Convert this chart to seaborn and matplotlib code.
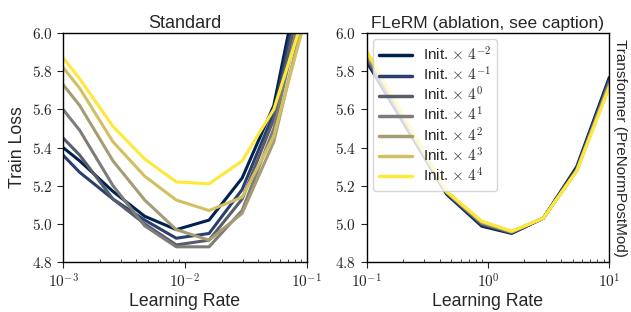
import numpy as np
import pandas as pd
import matplotlib
matplotlib.use("Agg")
import matplotlib.pyplot as plt
import matplotlib.ticker as mticker
import seaborn as sns

sns.set_style("ticks")
plt.rcParams['font.family'] = ['Liberation Sans', 'DejaVu Sans']
plt.rcParams['mathtext.fontset'] = 'cm'

init_labels = [r"Init. $\times$ $4^{-2}$", r"Init. $\times$ $4^{-1}$", r"Init. $\times$ $4^{0}$",
               r"Init. $\times$ $4^{1}$", r"Init. $\times$ $4^{2}$", r"Init. $\times$ $4^{3}$",
               r"Init. $\times$ $4^{4}$"]

# Standard panel
lr_std = [1.0e-3, 1.37e-3, 2.57e-3, 4.68e-3, 8.5e-3, 1.58e-2, 2.95e-2, 5.37e-2, 1.0e-1]
std_m2 = [5.40, 5.33, 5.17, 5.04, 4.97, 5.02, 5.24, 5.62, 6.47]
std_m1 = [5.36, 5.27, 5.13, 5.02, 4.925, 4.95, 5.18, 5.58, 6.40]
std_0  = [5.45, 5.36, 5.13, 5.00, 4.89, 4.915, 5.13, 5.55, 6.33]
std_1  = [5.60, 5.49, 5.20, 4.99, 4.88, 4.88, 5.07, 5.50, 6.25]
std_2  = [5.73, 5.62, 5.33, 5.125, 4.97, 4.915, 5.055, 5.43, 6.15]
std_3  = [5.82, 5.71, 5.43, 5.25, 5.125, 5.07, 5.14, 5.46, 6.10]
std_4  = [5.87, 5.76, 5.51, 5.34, 5.22, 5.21, 5.33, 5.60, 6.14]

# FLeRM panel
lr_fl = [1.0e-1, 4.57e-1, 8.9e-1, 1.57, 2.86, 5.4, 10.0]
fl_m2 = [5.85, 5.155, 4.988, 4.950, 5.030, 5.300, 5.767]
fl_m1 = [5.86, 5.160, 4.995, 4.953, 5.030, 5.290, 5.755]
fl_0  = [5.87, 5.163, 5.000, 4.955, 5.030, 5.285, 5.745]
fl_1  = [5.88, 5.165, 5.005, 4.957, 5.030, 5.282, 5.735]
fl_2  = [5.89, 5.167, 5.008, 4.959, 5.030, 5.280, 5.728]
fl_3  = [5.90, 5.169, 5.012, 4.961, 5.030, 5.278, 5.720]
fl_4  = [5.907, 5.170, 5.014, 4.962, 5.030, 5.277, 5.715]

std_series = [std_m2, std_m1, std_0, std_1, std_2, std_3, std_4]
fl_series = [fl_m2, fl_m1, fl_0, fl_1, fl_2, fl_3, fl_4]

df_std = pd.concat([pd.DataFrame({"lr": lr_std, "loss": s, "init": lab})
                    for s, lab in zip(std_series, init_labels)])
df_fl = pd.concat([pd.DataFrame({"lr": lr_fl, "loss": s, "init": lab})
                   for s, lab in zip(fl_series, init_labels)])

palette = [tuple(c[:3]) for c in plt.cm.cividis(np.linspace(0, 1, 7))]

fig = plt.figure(figsize=(6.31, 3.12), dpi=100)
ax1 = fig.add_axes([0.1, 0.16, 0.386, 0.734])
ax2 = fig.add_axes([0.581, 0.16, 0.3845, 0.734])

sns.lineplot(data=df_std, x="lr", y="loss", hue="init", palette=palette,
             linewidth=2.2, ax=ax1, legend=False, sort=False)
sns.lineplot(data=df_fl, x="lr", y="loss", hue="init", palette=palette,
             linewidth=2.2, ax=ax2, legend=True, sort=False)

def logfmt(v, pos):
    e = int(round(np.log10(v)))
    return r"$10^{%d}$" % e

def yfmt(v, pos):
    return r"$%.1f$" % v

for ax, xl in [(ax1, (1e-3, 1e-1)), (ax2, (1e-1, 1e1))]:
    ax.set_xscale("log")
    ax.set_xlim(*xl)
    ax.set_ylim(4.8, 6.0)
    ax.set_yticks([4.8, 5.0, 5.2, 5.4, 5.6, 5.8, 6.0])
    ax.xaxis.set_major_formatter(mticker.FuncFormatter(logfmt))
    ax.xaxis.set_minor_formatter(mticker.NullFormatter())
    ax.yaxis.set_major_formatter(mticker.FuncFormatter(yfmt))
    ax.tick_params(axis="both", which="major", labelsize=11, length=4, width=0.8, direction="out")
    ax.tick_params(axis="x", which="minor", length=2.5, width=0.6, direction="in")
    for sp in ax.spines.values():
        sp.set_visible(True)
        sp.set_linewidth(1.0)
        sp.set_color("black")
    ax.set_xlabel("Learning Rate", fontsize=12.7, labelpad=2)

ax1.set_ylabel("Train Loss", fontsize=12.7)
ax2.set_ylabel("")
ax1.set_title("Standard", fontsize=13, pad=4)
ax2.set_title("FLeRM (ablation, see caption)", fontsize=12.5, pad=4)

leg = ax2.legend(loc="upper left", fontsize=11, frameon=True, framealpha=0.8,
                 handlelength=2.15, labelspacing=0.13, borderaxespad=0.42,
                 handletextpad=0.7, fancybox=True)
for line in leg.get_lines():
    line.set_linewidth(2.5)

fig.text(0.993, 0.527, "Transformer (PreNormPostMod)", rotation=270,
         ha="right", va="center", fontsize=11)

fig.savefig("out.png", dpi=100)
